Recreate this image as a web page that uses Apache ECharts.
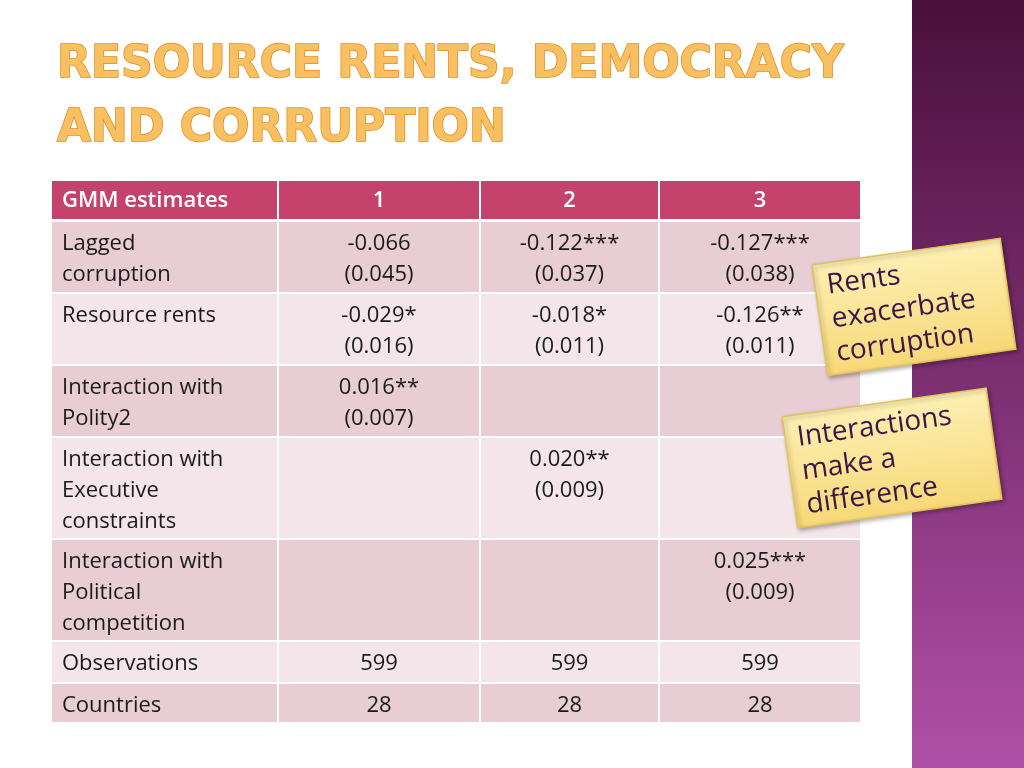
<!DOCTYPE html>
<html><head><meta charset="utf-8">
<script src="https://cdn.jsdelivr.net/npm/echarts@6/dist/echarts.min.js"></script>
<style>html,body{margin:0;padding:0;background:#fff}#c{width:1024px;height:768px}</style>
</head><body><div id="c"></div>
<script>
const titleLines = ["RESOURCE RENTS, DEMOCRACY", "AND CORRUPTION"];
const headers = ["GMM estimates", "1", "2", "3"];
const rowLabels = ["Lagged\ncorruption", "Resource rents", "Interaction with\nPolity2", "Interaction with\nExecutive\nconstraints", "Interaction with\nPolitical\ncompetition", "Observations", "Countries"];
const col1 = ["-0.066\n(0.045)", "-0.029*\n(0.016)", "0.016**\n(0.007)", "", "", "599", "28"];
const col2 = ["-0.122***\n(0.037)", "-0.018*\n(0.011)", "", "0.020**\n(0.009)", "", "599", "28"];
const col3 = ["-0.127***\n(0.038)", "-0.126**\n(0.011)", "", "", "0.025***\n(0.009)", "599", "28"];
const notes = ["Rents\nexacerbate\ncorruption", "Interactions\nmake a\ndifference"];

const colX = [52, 279, 481, 660, 862];
const rowY = [181, 222, 294, 366, 438, 540, 642, 684, 724];
const rowFill = ["#e8cdd5", "#f3e5e9", "#e8cdd5", "#f3e5e9", "#e8cdd5", "#f3e5e9", "#e8cdd5"];
const font = "'Open Sans', 'Noto Sans', sans-serif";
const g = [];
g.push({type:'rect', shape:{x:912,y:0,width:112,height:768}, style:{fill:{type:'linear',x:0,y:0,x2:0,y2:1,colorStops:[{offset:0,color:'#4a0f3c'},{offset:1,color:'#b050a8'}]}}});
titleLines.forEach((t,i)=>g.push({type:'text', x:57, y:44+i*64, style:{text:t, font:"bold 44px 'DejaVu Sans'", fill:'#f8c060', stroke:'#e08a22', lineWidth:1.5}}));
const cols=[rowLabels,col1,col2,col3];
for(let c=0;c<4;c++){
  g.push({type:'rect', shape:{x:colX[c],y:rowY[0],width:colX[c+1]-colX[c]-2,height:rowY[1]-rowY[0]-3}, style:{fill:'#c4426c'}});
  g.push({type:'text', x:c===0?62:(colX[c]+colX[c+1]-2)/2, y:rowY[0]+20, style:{text:headers[c], font:"600 22px "+font, fill:'#fff', align:c===0?'left':'center', verticalAlign:'middle'}});
}
for(let r=0;r<7;r++){
  for(let c=0;c<4;c++){
    g.push({type:'rect', shape:{x:colX[c],y:rowY[r+1],width:colX[c+1]-colX[c]-2,height:rowY[r+2]-rowY[r+1]-2}, style:{fill:rowFill[r]}});
    g.push({type:'text', x:c===0?62:(colX[c]+colX[c+1]-2)/2, y:rowY[r+1]+6, style:{text:cols[c][r], font:"22px "+font, fill:'#1a1a1a', align:c===0?'left':'center', verticalAlign:'top', lineHeight:31}});
  }
}
const noteBox=[{x:914,y:307,w:190,h:112},{x:892,y:458,w:206,h:112}];
notes.forEach((t,i)=>{
  const b=noteBox[i];
  g.push({type:'group', x:b.x, y:b.y, rotation:8*Math.PI/180, children:[
    {type:'rect', shape:{x:-b.w/2,y:-b.h/2,width:b.w,height:b.h}, style:{fill:{type:'linear',x:0,y:0,x2:0,y2:1,colorStops:[{offset:0,color:'#fdf0b4'},{offset:1,color:'#f7d877'}]}, stroke:'#e2c35a', lineWidth:1.5, shadowBlur:4, shadowColor:'rgba(0,0,0,0.3)', shadowOffsetX:2, shadowOffsetY:2}},
    {type:'text', x:-b.w/2+12, y:-b.h/2+6, style:{text:t, font:"28px "+font, fill:'#3b1448', lineHeight:34, verticalAlign:'top'}}
  ]});
});
const ch=echarts.init(document.getElementById('c'));
ch.setOption({animation:false, graphic:g});
</script></body></html>
